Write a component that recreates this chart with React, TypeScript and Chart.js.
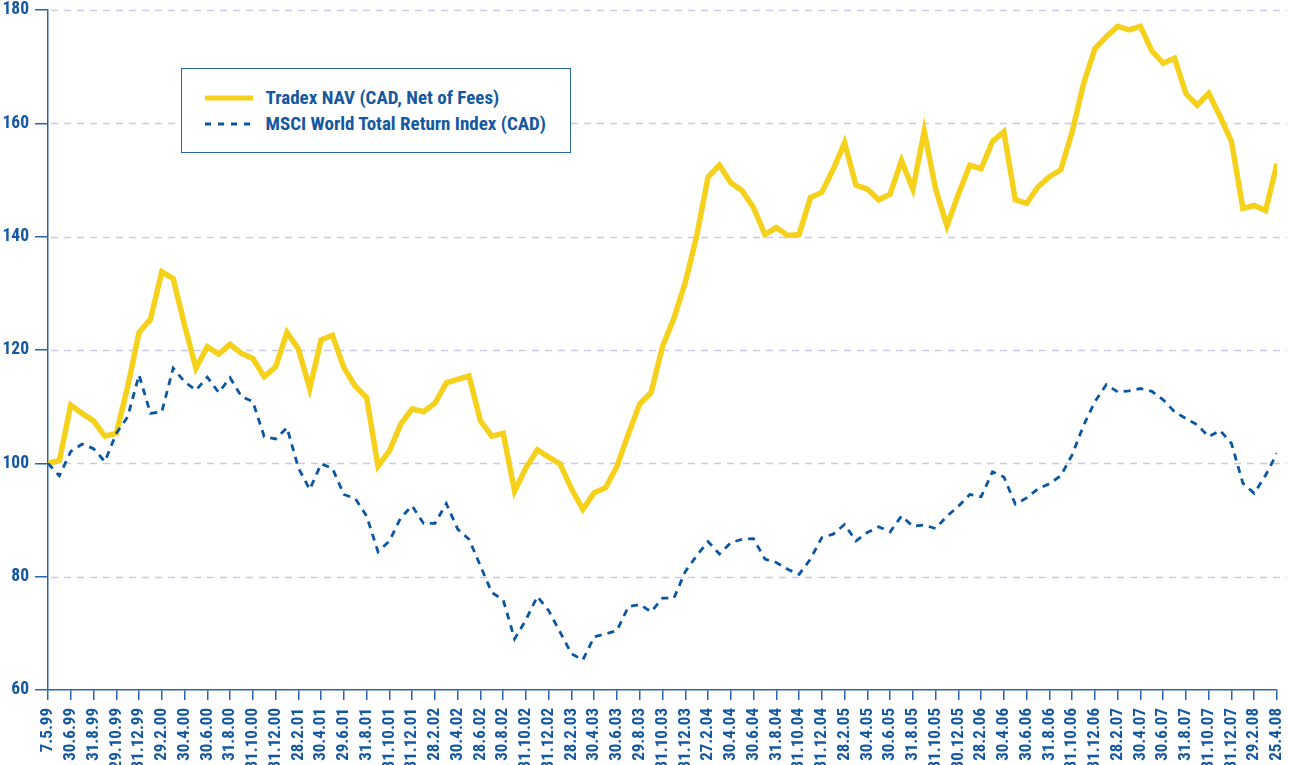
import React, { useEffect, useRef } from 'react';
import { Chart, registerables } from 'chart.js';

Chart.register(...registerables);

// Tick labels (one every second data point)
const tickLabels = [
  '7.5.99', '30.6.99', '31.8.99', '29.10.99', '31.12.99', '29.2.00', '30.4.00', '30.6.00',
  '31.8.00', '31.10.00', '31.12.00', '28.2.01', '30.4.01', '29.6.01', '31.8.01', '31.10.01',
  '31.12.01', '28.2.02', '30.4.02', '28.6.02', '30.8.02', '31.10.02', '31.12.02', '28.2.03',
  '30.4.03', '30.6.03', '29.8.03', '31.10.03', '31.12.03', '27.2.04', '30.4.04', '30.6.04',
  '31.8.04', '31.10.04', '31.12.04', '28.2.05', '30.4.05', '30.6.05', '31.8.05', '31.10.05',
  '30.12.05', '28.2.06', '30.4.06', '30.6.06', '31.8.06', '31.10.06', '31.12.06', '28.2.07',
  '30.4.07', '30.6.07', '31.8.07', '31.10.07', '31.12.07', '29.2.08', '25.4.08',
];

const seriesNames = ['Tradex NAV (CAD, Net of Fees)', 'MSCI World Total Return Index (CAD)'];

const tradexNav = [
  100, 100.5, 110.3, 108.8, 107.5, 104.8, 105.3, 113.5, 123.1, 125.4,
  133.8, 132.6, 124.4, 116.8, 120.6, 119.3, 121, 119.4, 118.5, 115.3,
  117, 123.1, 120.2, 113.2, 121.8, 122.6, 116.9, 113.6, 111.6, 99.5,
  102.2, 106.9, 109.6, 109.1, 110.6, 114.2, 114.8, 115.4, 107.5, 104.8,
  105.3, 95.1, 99.2, 102.4, 101.1, 99.9, 95.5, 91.9, 94.8, 95.7,
  99.5, 105.2, 110.5, 112.5, 120.6, 125.6, 131.9, 140.1, 150.5, 152.6,
  149.5, 148.1, 145.1, 140.4, 141.6, 140.2, 140.4, 146.9, 147.8, 151.9,
  156.6, 149.1, 148.4, 146.5, 147.5, 153.4, 148.4, 158.6, 148.4, 141.9,
  147.5, 152.6, 152.0, 156.8, 158.5, 146.5, 145.9, 148.8, 150.6, 151.8,
  158.5, 167.0, 173.2, 175.3, 177.1, 176.5, 177.1, 172.8, 170.6, 171.5,
  165.2, 163.2, 165.3, 161.2, 156.8, 145.0, 145.5, 144.6, 152.9,
];

const msciWorld = [
  100, 97.8, 102.1, 103.4, 102.6, 100.3, 105.3, 108.2, 115.6, 108.8,
  109.1, 116.8, 114.4, 112.9, 115.2, 112.5, 115.1, 111.8, 110.9, 104.7,
  104.3, 106.3, 99.2, 95.4, 99.9, 99.1, 94.5, 93.8, 90.7, 84.4,
  86.3, 90.4, 92.5, 89.4, 89.4, 92.9, 88.4, 86.6, 81.9, 77.2,
  75.9, 69.0, 72.4, 76.5, 74.0, 70.2, 66.4, 65.3, 69.4, 69.9,
  70.5, 74.7, 75.1, 73.8, 76.2, 76.2, 80.9, 83.7, 86.2, 84.0,
  86.0, 86.6, 86.7, 83.1, 82.5, 81.3, 80.4, 83.1, 86.9, 87.5,
  89.2, 86.3, 87.8, 88.8, 87.9, 90.7, 88.9, 89.1, 88.5, 90.7,
  92.4, 94.5, 94.1, 98.5, 97.6, 92.8, 93.9, 95.5, 96.4, 97.8,
  101.5, 106.7, 110.9, 113.9, 112.6, 112.8, 113.2, 112.7, 111.2, 109.1,
  107.9, 106.8, 104.7, 105.8, 103.5, 96.5, 94.7, 97.9, 101.8,
];

const Y_MIN = 60;
const Y_MAX = 180;
const Y_STEP = 20;

const TEXT_BLUE = '#1458a1';
const AXIS_BLUE = '#2a65ab';
const NAVY = '#0b56a2';
const YELLOW = '#f5d11c';
const GRID = '#c7cbe6';
const FONT = "Roboto, 'DejaVu Sans Condensed', sans-serif";
const WEIGHT = 'bold condensed';

const W = 1289;
const H = 765;

export default function App() {
  const ref = useRef<HTMLCanvasElement>(null);

  useEffect(() => {
    document.body.style.margin = '0';
    if (!ref.current) return;

    const dashedGrid = {
      id: 'dashedGrid',
      beforeDatasetsDraw(chart: any) {
        const { ctx, chartArea, scales } = chart;
        const y = scales.y;
        ctx.save();
        ctx.strokeStyle = GRID;
        ctx.lineWidth = 1.5;
        ctx.setLineDash([7, 6]);
        for (const t of y.ticks) {
          if (t.value === Y_MIN) continue;
          const py = Math.round(y.getPixelForValue(t.value)) + 0.5;
          ctx.beginPath();
          ctx.moveTo(chartArea.left + 3, py);
          ctx.lineTo(chart.width - 2, py);
          ctx.stroke();
        }
        ctx.restore();
      },
    };

    const chart = new Chart(ref.current, {
      type: 'line',
      data: {
        datasets: [
          {
            label: seriesNames[0],
            data: tradexNav.map((v, i) => ({ x: i, y: v })),
            borderColor: YELLOW,
            backgroundColor: YELLOW,
            borderWidth: 5.5,
            pointRadius: 0,
            tension: 0,
            order: 1,
          },
          {
            label: seriesNames[1],
            data: msciWorld.map((v, i) => ({ x: i, y: v })),
            borderColor: NAVY,
            backgroundColor: NAVY,
            borderWidth: 2.8,
            borderDash: [7, 6],
            pointRadius: 0,
            tension: 0,
            order: 0,
          },
        ],
      },
      options: {
        responsive: false,
        animation: false,
        devicePixelRatio: 1,
        layout: { padding: { top: 10, right: 12, left: 0, bottom: 0 } },
        plugins: { legend: { display: false }, tooltip: { enabled: false } },
        scales: {
          x: {
            type: 'linear',
            min: 0,
            max: tradexNav.length - 1,
            border: { color: AXIS_BLUE, width: 1.5 },
            grid: { drawOnChartArea: false, drawTicks: true, tickLength: 10, color: AXIS_BLUE, lineWidth: 1.5 },
            ticks: {
              stepSize: 2,
              autoSkip: false,
              maxRotation: 90,
              minRotation: 90,
              padding: 8,
              color: TEXT_BLUE,
              font: { family: FONT, size: 17, weight: WEIGHT },
              callback: (v: any) => tickLabels[Math.round(Number(v) / 2)] ?? '',
            },
            afterFit: (s: any) => {
              s.height = 75;
              s.paddingLeft = 0;
              s.paddingRight = 0;
            },
          },
          y: {
            min: Y_MIN,
            max: Y_MAX,
            border: { color: AXIS_BLUE, width: 1.5 },
            grid: { drawOnChartArea: false, drawTicks: true, tickLength: 13, color: AXIS_BLUE, lineWidth: 1.5 },
            ticks: {
              stepSize: Y_STEP,
              padding: 6,
              color: TEXT_BLUE,
              font: { family: FONT, size: 17.5, weight: WEIGHT },
            },
            afterFit: (s: any) => {
              s.width = 48;
              s.paddingTop = 0;
              s.paddingBottom = 0;
            },
          },
        },
      },
      plugins: [dashedGrid],
    } as any);

    return () => chart.destroy();
  }, []);

  const legendText: React.CSSProperties = {
    position: 'absolute',
    left: 83.5,
    fontFamily: FONT,
    fontWeight: 'bold',
    fontStretch: 'condensed',
    fontSize: 19,
    lineHeight: '22px',
    color: TEXT_BLUE,
    whiteSpace: 'nowrap',
  };

  return (
    <div style={{ position: 'relative', width: W, height: H, overflow: 'hidden', background: '#fff' }}>
      <canvas ref={ref} width={W} height={H} style={{ display: 'block', width: W, height: H }} />
      <div
        style={{
          position: 'absolute',
          left: 181,
          top: 68,
          width: 390,
          height: 85,
          boxSizing: 'border-box',
          border: `1.5px solid ${AXIS_BLUE}`,
          background: '#fff',
        }}
      >
        <svg width={60} height={60} style={{ position: 'absolute', left: 20, top: 0 }}>
          <line x1={3} y1={29} x2={51} y2={29} stroke={YELLOW} strokeWidth={5} />
          <line x1={3} y1={55} x2={51} y2={55} stroke={NAVY} strokeWidth={3} strokeDasharray="6 7" />
        </svg>
        <span style={{ ...legendText, top: 17.5 }}>{seriesNames[0]}</span>
        <span style={{ ...legendText, top: 43.5 }}>{seriesNames[1]}</span>
      </div>
    </div>
  );
}
